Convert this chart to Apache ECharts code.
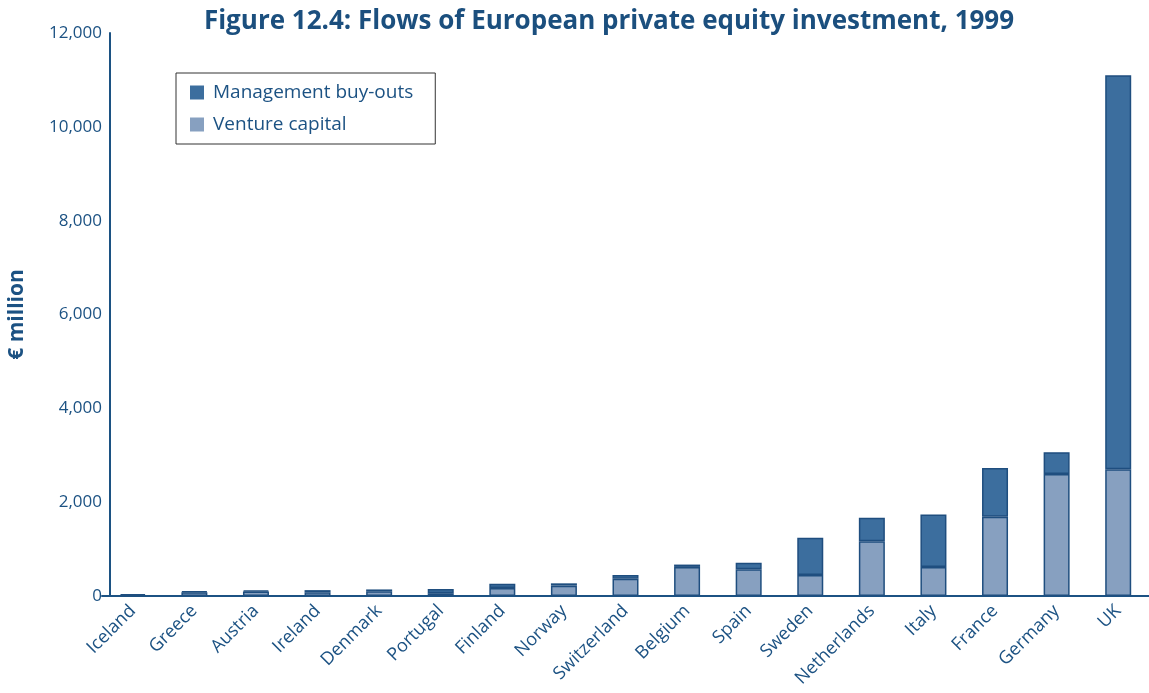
<!DOCTYPE html>
<html><head><meta charset="utf-8">
<script src="https://cdn.jsdelivr.net/npm/echarts@6/dist/echarts.min.js"></script>
<style>html,body{margin:0;padding:0;background:#fff}#c{width:1149px;height:693px}</style>
</head><body><div id="c"></div>
<script>
const categories = ['Iceland','Greece','Austria','Ireland','Denmark','Portugal','Finland','Norway','Switzerland','Belgium','Spain','Sweden','Netherlands','Italy','France','Germany','UK'];
const ventureCapital = [12, 80, 95, 80, 100, 60, 170, 220, 370, 620, 570, 450, 1165, 620, 1690, 2600, 2700];
const managementBuyOuts = [30, 20, 25, 45, 40, 90, 90, 50, 80, 50, 140, 790, 505, 1115, 1040, 465, 8400];
const yTicks = [0, 2000, 4000, 6000, 8000, 10000, 12000];

const txt = '#1C5283';
const font = '"Open Sans", "Noto Sans", sans-serif';
const chart = echarts.init(document.getElementById('c'));
chart.setOption({
  animation: false,
  textStyle: { fontFamily: font, color: txt },
  title: {
    text: 'Figure 12.4: Flows of European private equity investment, 1999',
    left: 604, top: 4, textAlign: 'center',
    textStyle: { fontFamily: font, fontSize: 26, fontWeight: 'bold', color: '#1B4F7E' }
  },
  legend: {
    orient: 'vertical', left: 176, top: 73,
    data: ['Management buy-outs', 'Venture capital'],
    borderColor: '#333', borderWidth: 1,
    padding: [10, 22, 10, 14], itemGap: 13,
    itemWidth: 14, itemHeight: 14, icon: 'rect',
    itemStyle: { borderWidth: 0 },
    textStyle: { fontFamily: font, fontSize: 19, color: txt, padding: [0, 0, 0, 4] }
  },
  grid: { left: 102, right: 0, top: 33, bottom: 97, outerBoundsMode: 'none', containLabel: false },
  xAxis: {
    type: 'category', data: categories,
    axisLine: { lineStyle: { color: '#1C5283', width: 2 } },
    axisTick: { show: false },
    axisLabel: { rotate: 45, fontSize: 18, color: txt, fontFamily: font, margin: 12, interval: 0 }
  },
  yAxis: {
    type: 'value', min: 0, max: 12000, interval: 2000, offset: -8,
    name: '€ million', nameLocation: 'middle', nameGap: 82, nameRotate: 90,
    nameTextStyle: { fontSize: 21, fontWeight: 'bold', color: txt, fontFamily: font },
    axisLine: { show: true, lineStyle: { color: '#1C5283', width: 2 } },
    axisTick: { show: false },
    splitLine: { show: false },
    axisLabel: {
      fontSize: 17, color: txt, fontFamily: font, margin: 8,
      formatter: v => yTicks.includes(v) ? v.toLocaleString('en-US') : ''
    }
  },
  series: [
    {
      name: 'Venture capital', type: 'bar', stack: 'total', barWidth: 26,
      data: ventureCapital,
      itemStyle: { color: '#87A0C0', borderColor: '#1F4E7F', borderWidth: 1.5 }
    },
    {
      name: 'Management buy-outs', type: 'bar', stack: 'total', barWidth: 26,
      data: managementBuyOuts,
      itemStyle: { color: '#3C6E9E', borderColor: '#1F4E7F', borderWidth: 1.5 }
    }
  ]
});
</script></body></html>
